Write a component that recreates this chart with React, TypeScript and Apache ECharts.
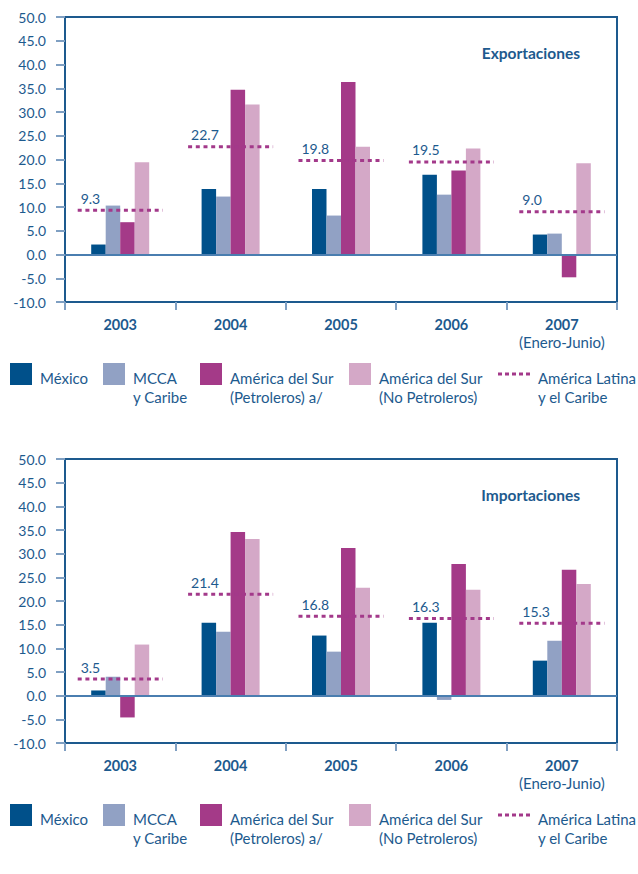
import React, { useEffect, useRef } from "react";
import * as echarts from "echarts";

const years = ["2003", "2004", "2005", "2006", "2007"];
const yearNotes = ["", "", "", "", "(Enero-Junio)"];

const expMexico = [2.1, 13.8, 13.8, 16.8, 4.2];
const expMCCA = [10.3, 12.2, 8.2, 12.6, 4.4];
const expSurPetro = [6.8, 34.7, 36.3, 17.7, -4.8];
const expSurNoPetro = [19.4, 31.6, 22.7, 22.3, 19.2];
const expAmLatina = [9.3, 22.7, 19.8, 19.5, 9.0];

const impMexico = [1.1, 15.4, 12.7, 15.4, 7.4];
const impMCCA = [4.0, 13.5, 9.3, -0.9, 11.6];
const impSurPetro = [-4.6, 34.6, 31.2, 27.8, 26.6];
const impSurNoPetro = [10.8, 33.1, 22.8, 22.4, 23.6];
const impAmLatina = [3.5, 21.4, 16.8, 16.3, 15.3];

const chartTitles = ["Exportaciones", "Importaciones"];
const seriesNames = [
  "México",
  "MCCA y Caribe",
  "América del Sur (Petroleros) a/",
  "América del Sur (No Petroleros)",
  "América Latina y el Caribe",
];
const legendLines = [
  ["México"],
  ["MCCA", "y Caribe"],
  ["América del Sur", "(Petroleros) a/"],
  ["América del Sur", "(No Petroleros)"],
  ["América Latina", "y el Caribe"],
];

const C_MEX = "#00508a";
const C_MCCA = "#91a1c4";
const C_PETRO = "#a43a88";
const C_NOPETRO = "#d4a8c7";
const C_DOT = "#a3398a";
const C_AXIS = "#1d5a8e";
const C_TICK = "#7f9fc2";
const C_ZERO = "#4a7eb0";
const C_TEXT = "#1d5a8e";
const barColors = [C_MEX, C_MCCA, C_PETRO, C_NOPETRO];
const FONT = "Lato";

export default function App() {
  const ref = useRef<HTMLDivElement>(null);
  useEffect(() => {
    if (!ref.current) return;
    const chart = echarts.init(ref.current, null, { renderer: "svg" });
    const grids = [
      { left: 65, top: 17, width: 552, height: 285 },
      { left: 65, top: 459, width: 552, height: 284 },
    ];
    const barSets = [
      [expMexico, expMCCA, expSurPetro, expSurNoPetro],
      [impMexico, impMCCA, impSurPetro, impSurNoPetro],
    ];
    const lineSets = [expAmLatina, impAmLatina];

    const series: any[] = [];
    [0, 1].forEach((g) => {
      barSets[g].forEach((arr, k) => {
        const s: any = {
          type: "bar",
          name: seriesNames[k],
          xAxisIndex: g,
          yAxisIndex: g,
          data: arr,
          barWidth: 14.5,
          barGap: "0%",
          itemStyle: { color: barColors[k] },
          z: 2,
        };
        if (k === 0) {
          s.markLine = {
            silent: true,
            symbol: "none",
            label: { show: false },
            lineStyle: { color: C_ZERO, width: 2, type: "solid" },
            data: [{ yAxis: 0 }],
            z: 3,
          };
        }
        series.push(s);
      });
      series.push({
        type: "custom",
        name: seriesNames[4],
        xAxisIndex: g,
        yAxisIndex: g,
        z: 5,
        data: lineSets[g].map((v, i) => [i, v]),
        encode: { x: 0, y: 1 },
        renderItem: (params: any, api: any) => {
          const idx = api.value(0);
          const v = api.value(1);
          const c = api.coord([idx, v]);
          const w = api.size([1, 0])[0] * 0.77;
          const x0 = c[0] - w / 2;
          const x1 = c[0] + w / 2;
          return {
            type: "group",
            children: [
              {
                type: "line",
                shape: { x1: x0, y1: c[1], x2: x1, y2: c[1] },
                style: { stroke: C_DOT, lineWidth: 3, lineDash: [4, 3.7] },
              },
              {
                type: "text",
                x: x0 + 3,
                y: c[1] - 12,
                style: {
                  text: Number(v).toFixed(1),
                  fill: C_TEXT,
                  fontSize: 14,
                  fontFamily: FONT,
                  align: "left",
                  verticalAlign: "middle",
                },
              },
            ],
          };
        },
      });
    });

    const graphics: any[] = [];
    const legendSquaresX = [10, 103, 200, 349];
    const legendTextX = [40, 133, 230, 379, 538];
    const legendTop = [363, 804];
    [0, 1].forEach((g) => {
      const top = legendTop[g];
      legendSquaresX.forEach((x, k) => {
        graphics.push({
          type: "rect",
          left: x,
          top: top,
          shape: { x: 0, y: 0, width: 22, height: 22 },
          style: { fill: barColors[k] },
        });
      });
      graphics.push({
        type: "line",
        shape: { x1: 498, y1: top + 11, x2: 532, y2: top + 11 },
        style: { stroke: C_DOT, lineWidth: 3, lineDash: [4, 3] },
      });
      legendLines.forEach((lines, k) => {
        lines.forEach((t, li) => {
          graphics.push({
            type: "text",
            x: legendTextX[k],
            y: top + 15 + li * 19,
            style: {
              text: t,
              fill: C_TEXT,
              fontSize: 15,
              fontFamily: FONT,
              align: "left",
              verticalAlign: "middle",
            },
          });
        });
      });
      graphics.push({
        type: "text",
        x: 580,
        y: grids[g].top + 36,
        style: {
          text: chartTitles[g],
          fill: C_TEXT,
          fontSize: 15.5,
          fontWeight: "bold",
          fontFamily: FONT,
          align: "right",
          verticalAlign: "middle",
        },
      });
    });

    const option: any = {
      animation: false,
      textStyle: { fontFamily: FONT },
      grid: grids.map((gr) => ({
        ...gr,
        show: true,
        borderColor: C_AXIS,
        borderWidth: 2,
        backgroundColor: "transparent",
      })),
      xAxis: [0, 1].map((g) => ({
        type: "category",
        gridIndex: g,
        data: years,
        boundaryGap: true,
        axisLine: { show: true, onZero: false, lineStyle: { color: C_AXIS, width: 2 } },
        axisTick: { show: true, interval: 0, length: 8, lineStyle: { color: C_TICK, width: 2 } },
        splitLine: { show: false },
        axisLabel: {
          interval: 0,
          margin: 13,
          color: C_TEXT,
          formatter: (val: string, idx: number) =>
            `{y|${val}}` + (yearNotes[idx] ? `\n{n|${yearNotes[idx]}}` : ""),
          rich: {
            y: { fontSize: 14.5, fontWeight: "bold", fontFamily: FONT, color: C_TEXT, lineHeight: 18 },
            n: { fontSize: 15, fontFamily: FONT, color: C_TEXT, lineHeight: 18 },
          },
        },
      })),
      yAxis: [0, 1].map((g) => ({
        type: "value",
        gridIndex: g,
        min: -10,
        max: 50,
        interval: 5,
        axisLine: { show: true, lineStyle: { color: C_AXIS, width: 2 } },
        axisTick: { show: true, length: 9, lineStyle: { color: C_TICK, width: 2 } },
        splitLine: { show: false },
        axisLabel: {
          margin: 19,
          color: C_TEXT,
          fontSize: 14,
          fontFamily: FONT,
          formatter: (v: number) => v.toFixed(1),
        },
      })),
      series,
      graphic: graphics,
    };
    chart.setOption(option);
    return () => chart.dispose();
  }, []);
  return (
    <div
      ref={ref}
      style={{ position: "absolute", left: 0, top: 0, width: 638, height: 874, background: "#fff" }}
    />
  );
}
